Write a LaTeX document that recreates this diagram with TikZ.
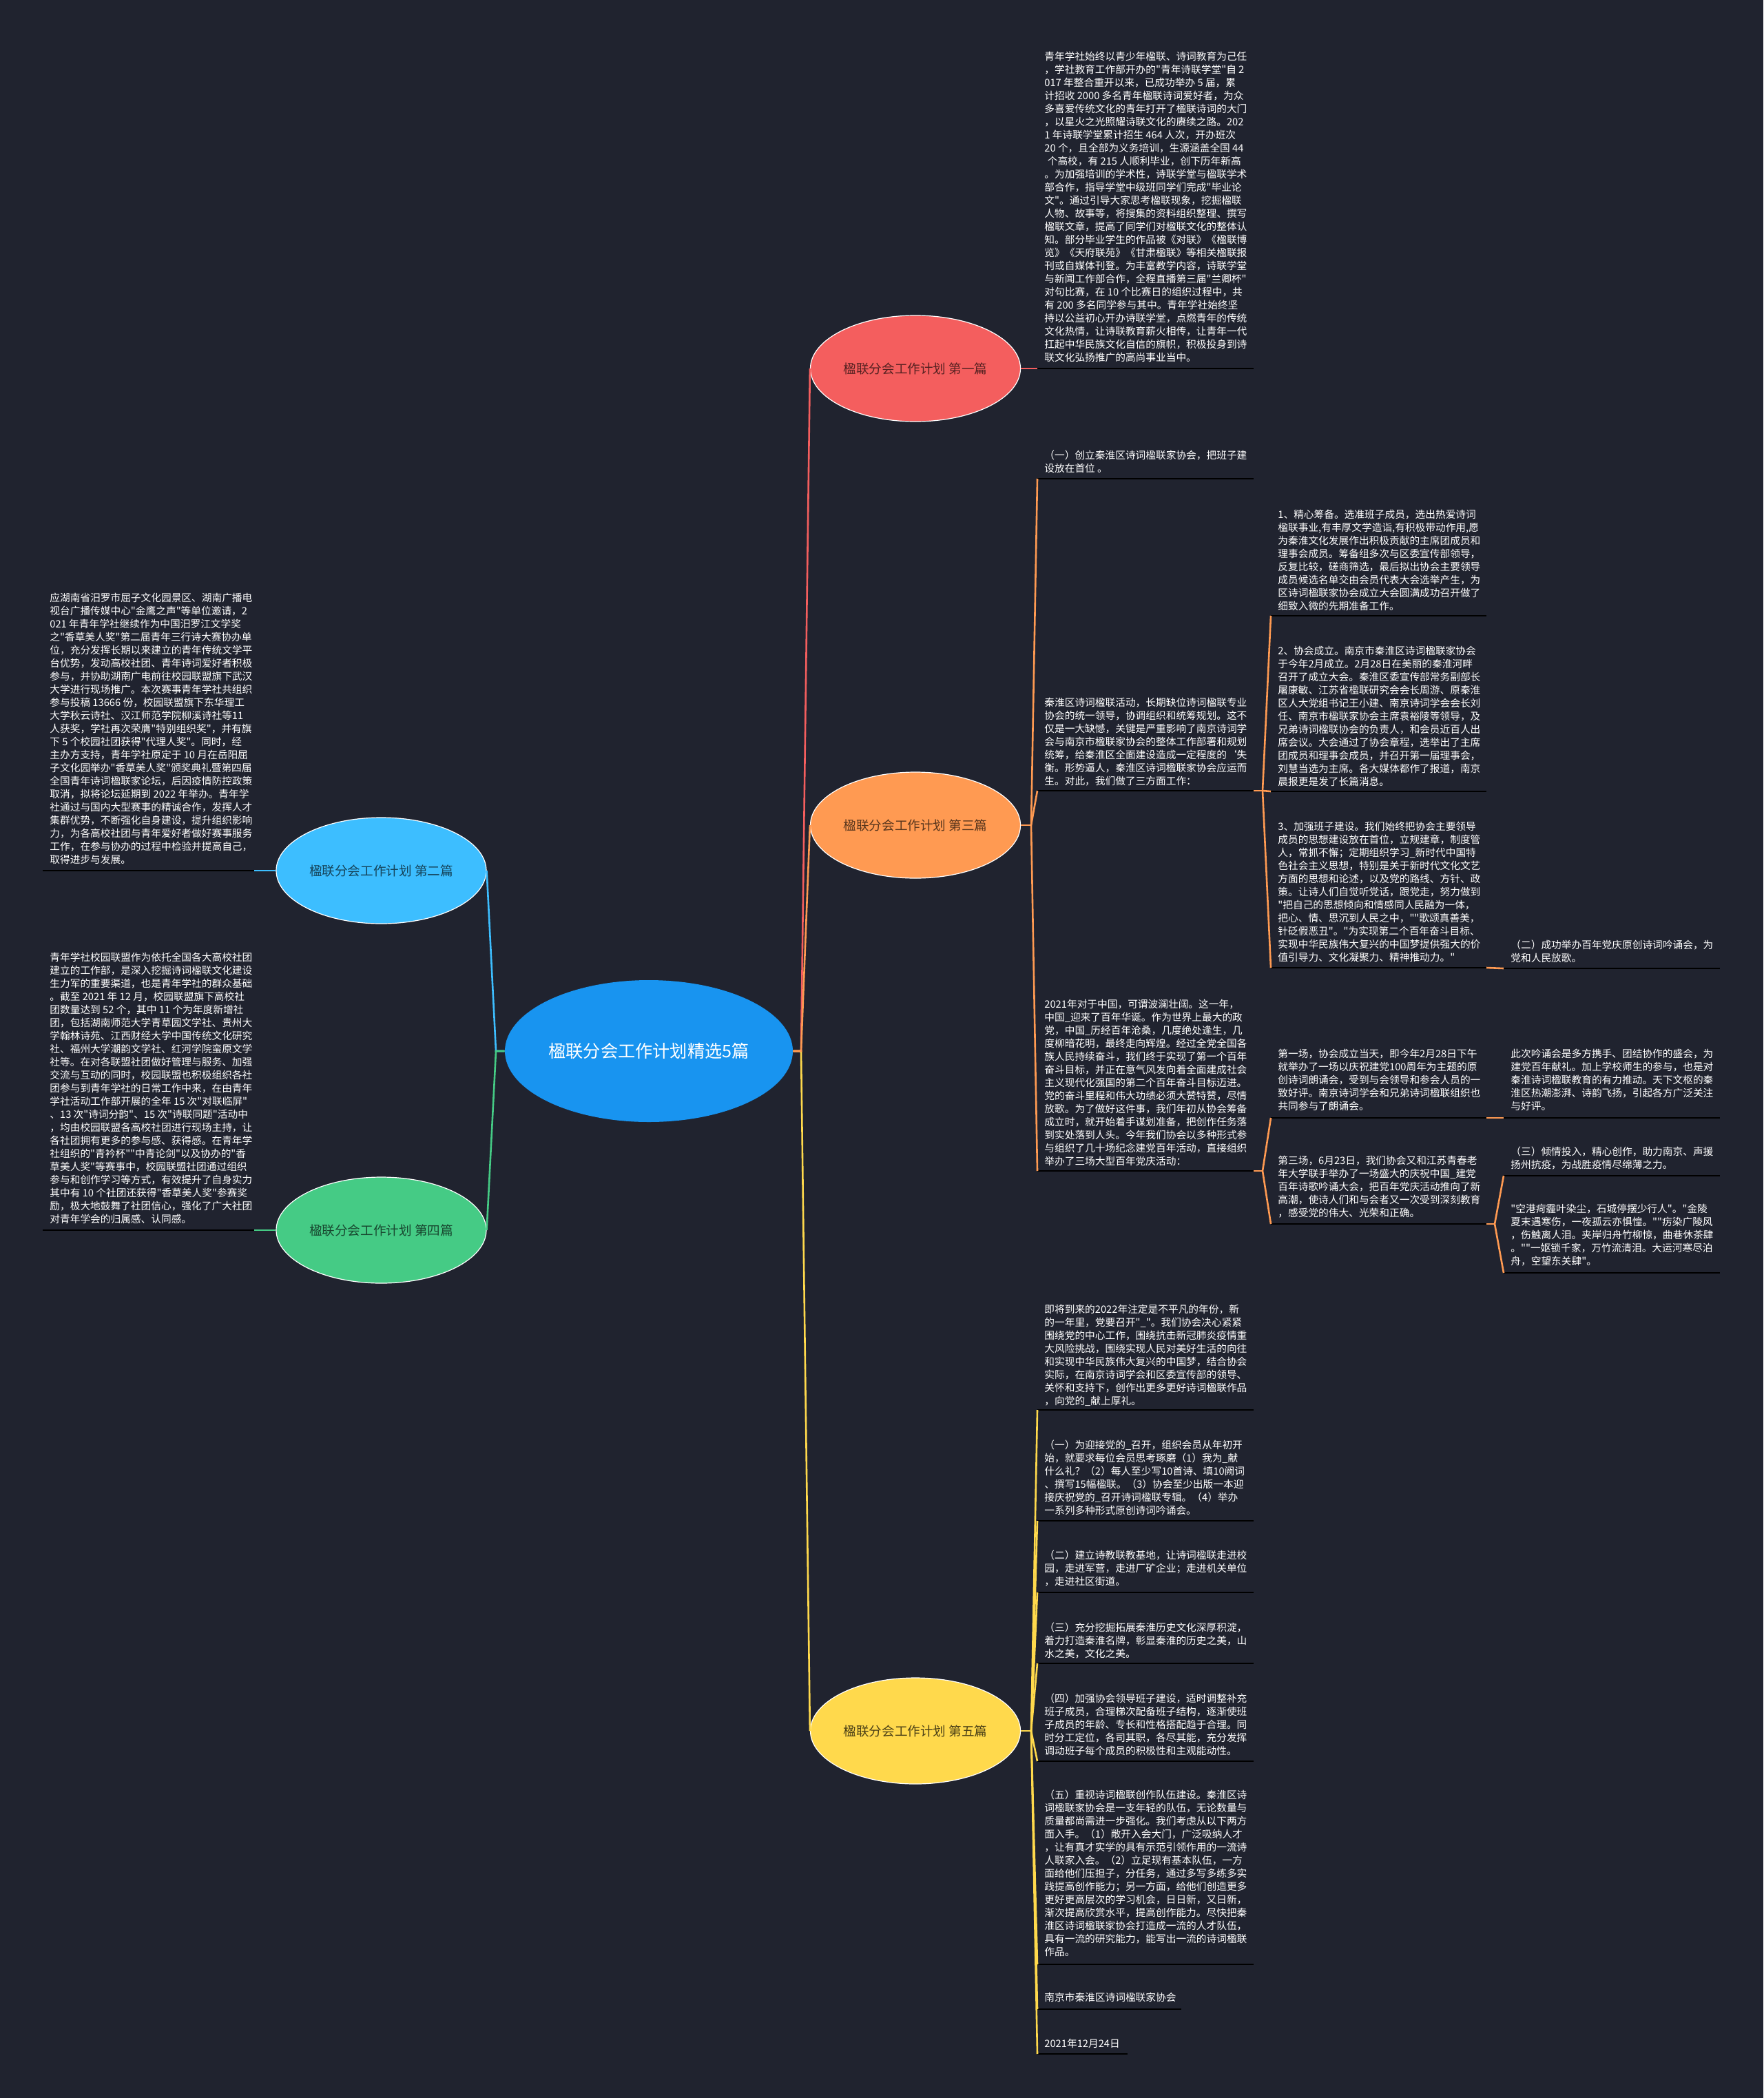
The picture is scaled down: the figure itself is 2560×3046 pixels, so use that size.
\documentclass[tikz,border=0pt]{standalone}
\usepackage{fontspec}
\newfontfamily\cjkfont{Noto Sans CJK SC}
\usetikzlibrary{shapes.geometric}
\definecolor{bg}{HTML}{20232F}
\definecolor{cRed}{HTML}{F45E5E}
\definecolor{cOrange}{HTML}{FF9A52}
\definecolor{cYellow}{HTML}{FFD94C}
\definecolor{cBlue}{HTML}{3DBEFF}
\definecolor{cGreen}{HTML}{45CB85}
\definecolor{cRoot}{HTML}{1894F0}
\tikzset{
  txt/.style={inner sep=0pt, align=left, text=white, font=\cjkfont\fontsize{7.35}{9.5}\selectfont},
  uline/.style={draw=black, line width=1.25pt},
  conn/.style={line width=1.3pt},
  topic/.style={ellipse, inner sep=0pt, minimum width=152.5pt, minimum height=77pt, draw=white, line width=0.6pt, font=\cjkfont\fontsize{9.3}{11}\selectfont},
  rootnode/.style={ellipse, inner sep=0pt, minimum width=209pt, minimum height=103pt, fill=cRoot, text=white, font=\cjkfont\fontsize{12.6}{14}\selectfont}
}
\newcommand\tblock[6]{%
  \node[txt, anchor=north west] (#1) at ({#2+10},{#3-7.5}) {#6};
  \coordinate (#1L) at (#2,#4);
  \coordinate (#1R) at (#5,#4);
  \draw[uline] (#1L) -- (#1R);
}
\begin{document}
\begin{tikzpicture}[x=0.5pt,y=-0.5pt]
\fill[bg] (0,0) rectangle (2560,3046);
\useasboundingbox (0,0) rectangle (2560,3046);

% topic nodes
\node[rootnode] (c) at (942,1526) {楹联分会工作计划精选5篇};
\node[topic, fill=cRed, text=cRed!35!black] (t1) at (1329,535) {楹联分会工作计划 第一篇};
\node[topic, fill=cOrange, text=cOrange!35!black] (t3) at (1329,1198) {楹联分会工作计划 第三篇};
\node[topic, fill=cYellow, text=cYellow!30!black] (t5) at (1329,2513) {楹联分会工作计划 第五篇};
\node[topic, fill=cBlue, text=cBlue!35!black] (t2) at (553.5,1264) {楹联分会工作计划 第二篇};
\node[topic, fill=cGreen, text=cGreen!35!black] (t4) at (553.5,1786) {楹联分会工作计划 第四篇};

% text blocks: column 1
\tblock{b1}{1506}{82}{535}{1820}{青年学社始终以青少年楹联、诗词教育为己任\\，学社教育工作部开办的"青年诗联学堂"自 2\\017 年整合重开以来，已成功举办 5 届，累\\计招收 2000 多名青年楹联诗词爱好者，为众\\多喜爱传统文化的青年打开了楹联诗词的大门\\，以星火之光照耀诗联文化的赓续之路。202\\1 年诗联学堂累计招生 464 人次，开办班次\\20 个，且全部为义务培训，生源涵盖全国 44\\\hspace{0.3em}个高校，有 215 人顺利毕业，创下历年新高\\。为加强培训的学术性，诗联学堂与楹联学术\\部合作，指导学堂中级班同学们完成"毕业论\\文"。通过引导大家思考楹联现象，挖掘楹联\\人物、故事等，将搜集的资料组织整理、撰写\\楹联文章，提高了同学们对楹联文化的整体认\\知。部分毕业学生的作品被《对联》《楹联博\\览》《天府联苑》《甘肃楹联》等相关楹联报\\刊或自媒体刊登。为丰富教学内容，诗联学堂\\与新闻工作部合作，全程直播第三届"兰卿杯"\\对句比赛，在 10 个比赛日的组织过程中，共\\有 200 多名同学参与其中。青年学社始终坚\\持以公益初心开办诗联学堂，点燃青年的传统\\文化热情，让诗联教育薪火相传，让青年一代\\扛起中华民族文化自信的旗帜，积极投身到诗\\联文化弘扬推广的高尚事业当中。}
\tblock{b3a}{1506}{661}{695}{1820}{（一）创立秦淮区诗词楹联家协会，把班子建\\设放在首位 。}
\tblock{b3b}{1506}{1020}{1148}{1820}{秦淮区诗词楹联活动，长期缺位诗词楹联专业\\协会的统一领导，协调组织和统筹规划。这不\\仅是一大缺憾，关键是严重影响了南京诗词学\\会与南京市楹联家协会的整体工作部署和规划\\统筹，给秦淮区全面建设造成一定程度的‘失\\衡。形势逼人，秦淮区诗词楹联家协会应运而\\生。对此，我们做了三方面工作：}
\tblock{b3c}{1506}{1458}{1700}{1820}{2021年对于中国，可谓波澜壮阔。这一年，\\中国\_迎来了百年华诞。作为世界上最大的政\\党，中国\_历经百年沧桑，几度绝处逢生，几\\度柳暗花明，最终走向辉煌。经过全党全国各\\族人民持续奋斗，我们终于实现了第一个百年\\奋斗目标，并正在意气风发向着全面建成社会\\主义现代化强国的第二个百年奋斗目标迈进。\\党的奋斗里程和伟大功绩必须大赞特赞，尽情\\放歌。为了做好这件事，我们年初从协会筹备\\成立时，就开始着手谋划准备，把创作任务落\\到实处落到人头。今年我们协会以多种形式参\\与组织了几十场纪念建党百年活动，直接组织\\举办了三场大型百年党庆活动：}
\tblock{b5a}{1506}{1901}{2047}{1820}{即将到来的2022年注定是不平凡的年份，新\\的一年里，党要召开"\_"。我们协会决心紧紧\\围绕党的中心工作，围绕抗击新冠肺炎疫情重\\大风险挑战，围绕实现人民对美好生活的向往\\和实现中华民族伟大复兴的中国梦，结合协会\\实际，在南京诗词学会和区委宣传部的领导、\\关怀和支持下，创作出更多更好诗词楹联作品\\，向党的\_献上厚礼。}
\tblock{b5b}{1506}{2098}{2208}{1820}{（一）为迎接党的\_召开，组织会员从年初开\\始，就要求每位会员思考琢磨（1）我为\_献\\什么礼？（2）每人至少写10首诗、填10阙词\\、撰写15幅楹联。（3）协会至少出版一本迎\\接庆祝党的\_召开诗词楹联专辑。（4）举办\\一系列多种形式原创诗词吟诵会。}
\tblock{b5c}{1506}{2258}{2312}{1820}{（二）建立诗教联教基地，让诗词楹联走进校\\园，走进军营，走进厂矿企业；走进机关单位\\，走进社区街道。}
\tblock{b5d}{1506}{2363}{2415}{1820}{（三）充分挖掘拓展秦淮历史文化深厚积淀，\\着力打造秦淮名牌，彰显秦淮的历史之美，山\\水之美，文化之美。}
\tblock{b5e}{1506}{2466}{2557}{1820}{（四）加强协会领导班子建设，适时调整补充\\班子成员，合理梯次配备班子结构，逐渐使班\\子成员的年龄、专长和性格搭配趋于合理。同\\时分工定位，各司其职，各尽其能，充分发挥\\调动班子每个成员的积极性和主观能动性。}
\tblock{b5f}{1506}{2606}{2852}{1820}{（五）重视诗词楹联创作队伍建设。秦淮区诗\\词楹联家协会是一支年轻的队伍，无论数量与\\质量都尚需进一步强化。我们考虑从以下两方\\面入手。（1）敞开入会大门，广泛吸纳人才\\，让有真才实学的具有示范引领作用的一流诗\\人联家入会。（2）立足现有基本队伍，一方\\面给他们压担子，分任务，通过多写多练多实\\践提高创作能力；另一方面，给他们创造更多\\更好更高层次的学习机会，日日新，又日新，\\渐次提高欣赏水平，提高创作能力。尽快把秦\\淮区诗词楹联家协会打造成一流的人才队伍，\\具有一流的研究能力，能写出一流的诗词楹联\\作品。}
\tblock{b5g}{1506}{2900}{2917}{1715}{南京市秦淮区诗词楹联家协会}
\tblock{b5h}{1506}{2967}{2982}{1637}{2021年12月24日}

% column 2
\tblock{b31}{1845}{747}{894}{2158}{1、精心筹备。选准班子成员，选出热爱诗词\\楹联事业,有丰厚文学造诣,有积极带动作用,愿\\为秦淮文化发展作出积极贡献的主席团成员和\\理事会成员。筹备组多次与区委宣传部领导，\\反复比较，磋商筛选，最后拟出协会主要领导\\成员候选名单交由会员代表大会选举产生，为\\区诗词楹联家协会成立大会圆满成功召开做了\\细致入微的先期准备工作。}
\tblock{b32}{1845}{945}{1149}{2158}{2、协会成立。南京市秦淮区诗词楹联家协会\\于今年2月成立。2月28日在美丽的秦淮河畔\\召开了成立大会。秦淮区委宣传部常务副部长\\屠康敏、江苏省楹联研究会会长周游、原秦淮\\区人大党组书记王小建、南京诗词学会会长刘\\任、南京市楹联家协会主席袁裕陵等领导，及\\兄弟诗词楹联协会的负责人，和会员近百人出\\席会议。大会通过了协会章程，选举出了主席\\团成员和理事会成员，并召开第一届理事会，\\刘慧当选为主席。各大媒体都作了报道，南京\\晨报更是发了长篇消息。}
\tblock{b33}{1845}{1200}{1405}{2158}{3、加强班子建设。我们始终把协会主要领导\\成员的思想建设放在首位，立规建章，制度管\\人，常抓不懈；定期组织学习\_新时代中国特\\色社会主义思想，特别是关于新时代文化文艺\\方面的思想和论述，以及党的路线、方针、政\\策。让诗人们自觉听党话，跟党走，努力做到\\"把自己的思想倾向和情感同人民融为一体，\\把心、情、思沉到人民之中，""歌颂真善美，\\针砭假恶丑"。"为实现第二个百年奋斗目标、\\实现中华民族伟大复兴的中国梦提供强大的价\\值引导力、文化凝聚力、精神推动力。"}
\tblock{b34}{1845}{1530}{1623}{2158}{第一场，协会成立当天，即今年2月28日下午\\就举办了一场以庆祝建党100周年为主题的原\\创诗词朗诵会，受到与会领导和参会人员的一\\致好评。南京诗词学会和兄弟诗词楹联组织也\\共同参与了朗诵会。}
\tblock{b35}{1845}{1685}{1777}{2158}{第三场，6月23日，我们协会又和江苏青春老\\年大学联手举办了一场盛大的庆祝中国\_建党\\百年诗歌吟诵大会，把百年党庆活动推向了新\\高潮，使诗人们和与会者又一次受到深刻教育\\，感受党的伟大、光荣和正确。}

% column 3
\tblock{b331}{2183}{1372}{1406}{2497}{（二）成功举办百年党庆原创诗词吟诵会，为\\党和人民放歌。}
\tblock{b341}{2183}{1530}{1623}{2497}{此次吟诵会是多方携手、团结协作的盛会，为\\建党百年献礼。加上学校师生的参与，也是对\\秦淮诗词楹联教育的有力推动。天下文枢的秦\\淮区热潮澎湃、诗韵飞扬，引起各方广泛关注\\与好评。}
\tblock{b351}{2183}{1672}{1707}{2497}{（三）倾情投入，精心创作，助力南京、声援\\扬州抗疫，为战胜疫情尽绵薄之力。}
\tblock{b352}{2183}{1755}{1848}{2497}{"空港疴霾叶染尘，石城停摆少行人"。"金陵\\夏末遇寒伤，一夜孤云亦惧惶。""疠染广陵风\\，伤触离人泪。夹岸归舟竹柳惊，曲巷休茶肆\\。""一妪锁千家，万竹流清泪。大运河寒尽泊\\舟，空望东关肆"。}

% left column
\tblock{b2}{62}{868}{1264}{369}{应湖南省汨罗市屈子文化园景区、湖南广播电\\视台广播传媒中心"金鹰之声"等单位邀请，2\\021 年青年学社继续作为中国汨罗江文学奖\\之"香草美人奖"第二届青年三行诗大赛协办单\\位，充分发挥长期以来建立的青年传统文学平\\台优势，发动高校社团、青年诗词爱好者积极\\参与，并协助湖南广电前往校园联盟旗下武汉\\大学进行现场推广。本次赛事青年学社共组织\\参与投稿 13666 份，校园联盟旗下东华理工\\大学秋云诗社、汉江师范学院柳溪诗社等11\\人获奖，学社再次荣膺"特别组织奖"，并有旗\\下 5 个校园社团获得"代理人奖"。同时，经\\主办方支持，青年学社原定于 10 月在岳阳屈\\子文化园举办"香草美人奖"颁奖典礼暨第四届\\全国青年诗词楹联家论坛，后因疫情防控政策\\取消，拟将论坛延期到 2022 年举办。青年学\\社通过与国内大型赛事的精诚合作，发挥人才\\集群优势，不断强化自身建设，提升组织影响\\力，为各高校社团与青年爱好者做好赛事服务\\工作，在参与协办的过程中检验并提高自己，\\取得进步与发展。}
\tblock{b4}{62}{1390}{1786}{369}{青年学社校园联盟作为依托全国各大高校社团\\建立的工作部，是深入挖掘诗词楹联文化建设\\生力军的重要渠道，也是青年学社的群众基础\\。截至 2021 年 12 月，校园联盟旗下高校社\\团数量达到 52 个，其中 11 个为年度新增社\\团，包括湖南师范大学青草园文学社、贵州大\\学翰林诗苑、江西财经大学中国传统文化研究\\社、福州大学潮韵文学社、红河学院蛮原文学\\社等。在对各联盟社团做好管理与服务、加强\\交流与互动的同时，校园联盟也积极组织各社\\团参与到青年学社的日常工作中来，在由青年\\学社活动工作部开展的全年 15 次"对联临屏"\\、13 次"诗词分韵"、15 次"诗联同题"活动中\\，均由校园联盟各高校社团进行现场主持，让\\各社团拥有更多的参与感、获得感。在青年学\\社组织的"青衿杯""中青论剑"以及协办的"香\\草美人奖"等赛事中，校园联盟社团通过组织\\参与和创作学习等方式，有效提升了自身实力\\其中有 10 个社团还获得"香草美人奖"参赛奖\\励，极大地鼓舞了社团信心，强化了广大社团\\对青年学会的归属感、认同感。}

% junctions
\coordinate (jR) at (1163,1526);
\coordinate (jL) at (720,1526);
\coordinate (j3) at (1497,1198);
\coordinate (j5) at (1497,2513);
\coordinate (jb) at (1833,1148);
\coordinate (jc) at (1833,1700);
\coordinate (je) at (2170,1777);

% connectors: root
\draw[conn, cRed] (c.east) -- (jR) -- (t1.west);
\draw[conn, cYellow] (c.east) -- (jR) -- (t5.west);
\draw[conn, cOrange] (c.east) -- (jR) -- (t3.west);
\draw[conn, cBlue] (c.west) -- (jL) -- (t2.east);
\draw[conn, cGreen] (c.west) -- (jL) -- (t4.east);
% first level
\draw[conn, cRed] (t1.east) -- (b1L);
\draw[conn, cBlue] (t2.west) -- (b2R);
\draw[conn, cGreen] (t4.west) -- (b4R);
\draw[conn, cOrange] (t3.east) -- (j3);
\draw[conn, cOrange] (j3) -- (b3aL);
\draw[conn, cOrange] (j3) -- (b3bL);
\draw[conn, cOrange] (j3) -- (b3cL);
\draw[conn, cYellow] (t5.east) -- (j5);
\foreach \b in {b5a,b5b,b5c,b5d,b5e,b5f,b5g,b5h}
  \draw[conn, cYellow] (j5) -- (\b L);
% deeper levels
\draw[conn, cOrange] (b3bR) -- (jb);
\draw[conn, cOrange] (jb) -- (b31L);
\draw[conn, cOrange] (jb) -- (b32L);
\draw[conn, cOrange] (jb) -- (b33L);
\draw[conn, cOrange] (b33R) -- (b331L);
\draw[conn, cOrange] (b3cR) -- (jc);
\draw[conn, cOrange] (jc) -- (b34L);
\draw[conn, cOrange] (jc) -- (b35L);
\draw[conn, cOrange] (b34R) -- (b341L);
\draw[conn, cOrange] (b35R) -- (je);
\draw[conn, cOrange] (je) -- (b351L);
\draw[conn, cOrange] (je) -- (b352L);
\end{tikzpicture}
\end{document}
